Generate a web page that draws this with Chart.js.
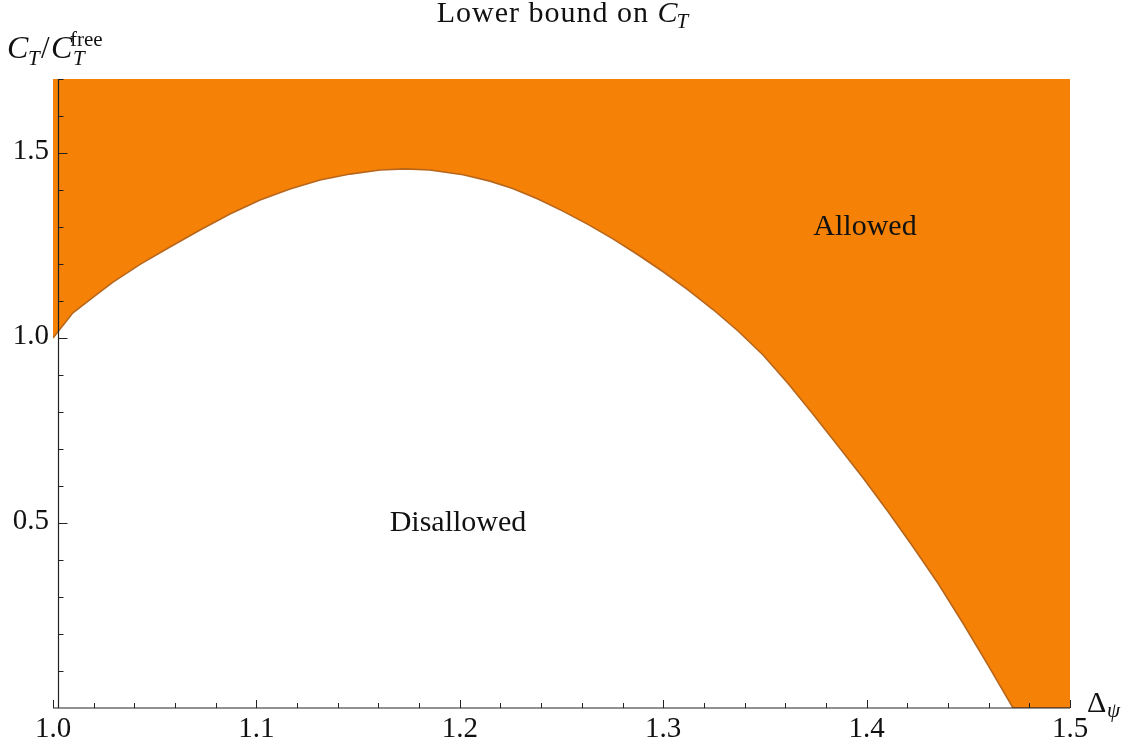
<!DOCTYPE html>
<html>
<head>
<meta charset="utf-8">
<title>Lower bound on C_T</title>
<script src="https://cdn.jsdelivr.net/npm/chart.js@4.4.1/dist/chart.umd.min.js"></script>
<style>
  html, body { margin: 0; padding: 0; background: #ffffff; }
  #wrap { width: 1129px; height: 748px; }
</style>
</head>
<body>
<div id="wrap"><canvas id="chart" width="1129" height="748"></canvas></div>
<script>
// ------------------------------------------------------
// Datos
// ------------------------------------------------------
const deltaPsi = [1.0, 1.0098, 1.0206, 1.0295, 1.0428, 1.0575, 1.0723, 1.087, 1.1018, 1.1165,
  1.1313, 1.146, 1.1608, 1.173, 1.1853, 1.2016, 1.2148, 1.226, 1.2384, 1.2507,
  1.263, 1.2753, 1.2876, 1.30, 1.3122, 1.3245, 1.3368, 1.3491, 1.3614, 1.3737,
  1.3859, 1.3982, 1.4105, 1.4228, 1.4351, 1.4474, 1.4597, 1.472, 1.5];
const ctBound = [1.0, 1.068, 1.114, 1.151, 1.199, 1.246, 1.292, 1.335, 1.373, 1.403,
  1.427, 1.443, 1.454, 1.457, 1.454, 1.441, 1.424, 1.404, 1.3755, 1.343,
  1.307, 1.268, 1.225, 1.179, 1.130, 1.077, 1.019, 0.954, 0.877, 0.794,
  0.709, 0.622, 0.531, 0.436, 0.337, 0.229, 0.116, 0.0, 0.0];

const xTickValues = [1.0, 1.1, 1.2, 1.3, 1.4, 1.5];
const xTickLabels = ["1.0", "1.1", "1.2", "1.3", "1.4", "1.5"];
const yTickValues = [0.5, 1.0, 1.5];
const yTickLabels = ["0.5", "1.0", "1.5"];

const X_MIN = 1.0, X_MAX = 1.5;
const Y_MIN = 0, Y_MAX = 1.7;
const AXIS_X = 1.0025; // donde cruza el eje vertical

const SERIF = "'Liberation Serif', 'DejaVu Serif', serif";

/* =======================================================
   Ejes estilo Mathematica (dibujados a mano)
======================================================= */
const ejesPlugin = {
  id: "ejes",
  afterDraw(chart) {
    const ctx = chart.ctx;
    const xs = chart.scales.x;
    const ys = chart.scales.y;
    const ax = Math.round(xs.getPixelForValue(AXIS_X)) + 0.5;
    const ay = ys.getPixelForValue(0);

    ctx.save();
    ctx.strokeStyle = "#222";
    ctx.lineWidth = 1.2;

    // lineas de ejes
    ctx.beginPath();
    ctx.moveTo(xs.getPixelForValue(X_MIN), ay);
    ctx.lineTo(xs.getPixelForValue(X_MAX), ay);
    ctx.moveTo(ax, ys.getPixelForValue(Y_MAX));
    ctx.lineTo(ax, ay);
    ctx.stroke();

    // ticks x (cada 0.02)
    ctx.lineWidth = 1;
    ctx.beginPath();
    for (let i = 0; i <= 25; i++) {
      const v = X_MIN + i * 0.02;
      const px = Math.round(xs.getPixelForValue(v)) + 0.5;
      const len = i % 5 === 0 ? 8 : 5;
      ctx.moveTo(px, ay);
      ctx.lineTo(px, ay - len);
    }
    // ticks y (cada 0.1)
    for (let i = 1; i <= 17; i++) {
      const v = i * 0.1;
      const py = Math.round(ys.getPixelForValue(v)) + 0.5;
      const len = i % 5 === 0 ? 9 : 5;
      ctx.moveTo(ax, py);
      ctx.lineTo(ax + len, py);
    }
    ctx.stroke();

    // etiquetas de ticks
    ctx.fillStyle = "#111";
    ctx.font = "29px " + SERIF;
    ctx.textAlign = "center";
    ctx.textBaseline = "alphabetic";
    xTickValues.forEach((v, i) => {
      ctx.fillText(xTickLabels[i], xs.getPixelForValue(v), 737);
    });
    ctx.textAlign = "right";
    ctx.textBaseline = "middle";
    yTickValues.forEach((v, i) => {
      ctx.fillText(yTickLabels[i], 49, ys.getPixelForValue(v) - 2);
    });

    // titulo
    ctx.textBaseline = "alphabetic";
    ctx.textAlign = "left";
    const t1 = "Lower bound on ";
    ctx.letterSpacing = "1px";
    ctx.font = "30px " + SERIF;
    const w1 = ctx.measureText(t1).width;
    ctx.font = "italic 30px " + SERIF;
    const wC = ctx.measureText("C").width;
    ctx.font = "italic 21px " + SERIF;
    const wT = ctx.measureText("T").width;
    let tx = 564 - (w1 + wC + wT) / 2;
    ctx.font = "30px " + SERIF;
    ctx.fillText(t1, tx, 22);
    ctx.font = "italic 30px " + SERIF;
    ctx.fillText("C", tx + w1, 22);
    ctx.font = "italic 21px " + SERIF;
    ctx.fillText("T", tx + w1 + wC - 2, 28);
    ctx.letterSpacing = "0px";

    // etiqueta eje y: C_T / C_T^free
    ctx.font = "italic 32px " + SERIF;
    ctx.fillText("C", 7, 58);
    ctx.font = "italic 21px " + SERIF;
    ctx.fillText("T", 28, 65);
    ctx.font = "31px " + SERIF;
    ctx.fillText("/", 41, 58);
    ctx.font = "italic 32px " + SERIF;
    ctx.fillText("C", 51, 58);
    ctx.font = "italic 21px " + SERIF;
    ctx.fillText("T", 73, 65);
    ctx.font = "21px " + SERIF;
    ctx.fillText("free", 70, 46);

    // etiqueta eje x: Delta_psi
    ctx.font = "30px " + SERIF;
    ctx.fillText("\u0394", 1087, 712);
    ctx.font = "italic 21px " + SERIF;
    ctx.fillText("\u03c8", 1107, 717);

    // regiones
    ctx.font = "30px " + SERIF;
    ctx.textAlign = "center";
    ctx.fillText("Allowed", 865, 235);
    ctx.fillText("Disallowed", 458, 531);

    ctx.restore();
  },
};

/* =======================================================
   Grafico
======================================================= */
const puntos = deltaPsi.map((x, i) => ({ x, y: ctBound[i] }));

new Chart(document.getElementById("chart"), {
  type: "line",
  data: {
    datasets: [
      {
        data: puntos,
        borderColor: "#b8661b",
        backgroundColor: "#f58206",
        borderWidth: 1.6,
        pointRadius: 0,
        fill: "end",
        tension: 0,
      },
    ],
  },
  options: {
    responsive: false,
    animation: false,
    layout: { padding: { left: 53, right: 59, top: 79, bottom: 40 } },
    plugins: { legend: { display: false }, tooltip: { enabled: false } },
    scales: {
      x: { type: "linear", min: X_MIN, max: X_MAX, display: false },
      y: { type: "linear", min: Y_MIN, max: Y_MAX, display: false },
    },
  },
  plugins: [ejesPlugin],
});
</script>
</body>
</html>
